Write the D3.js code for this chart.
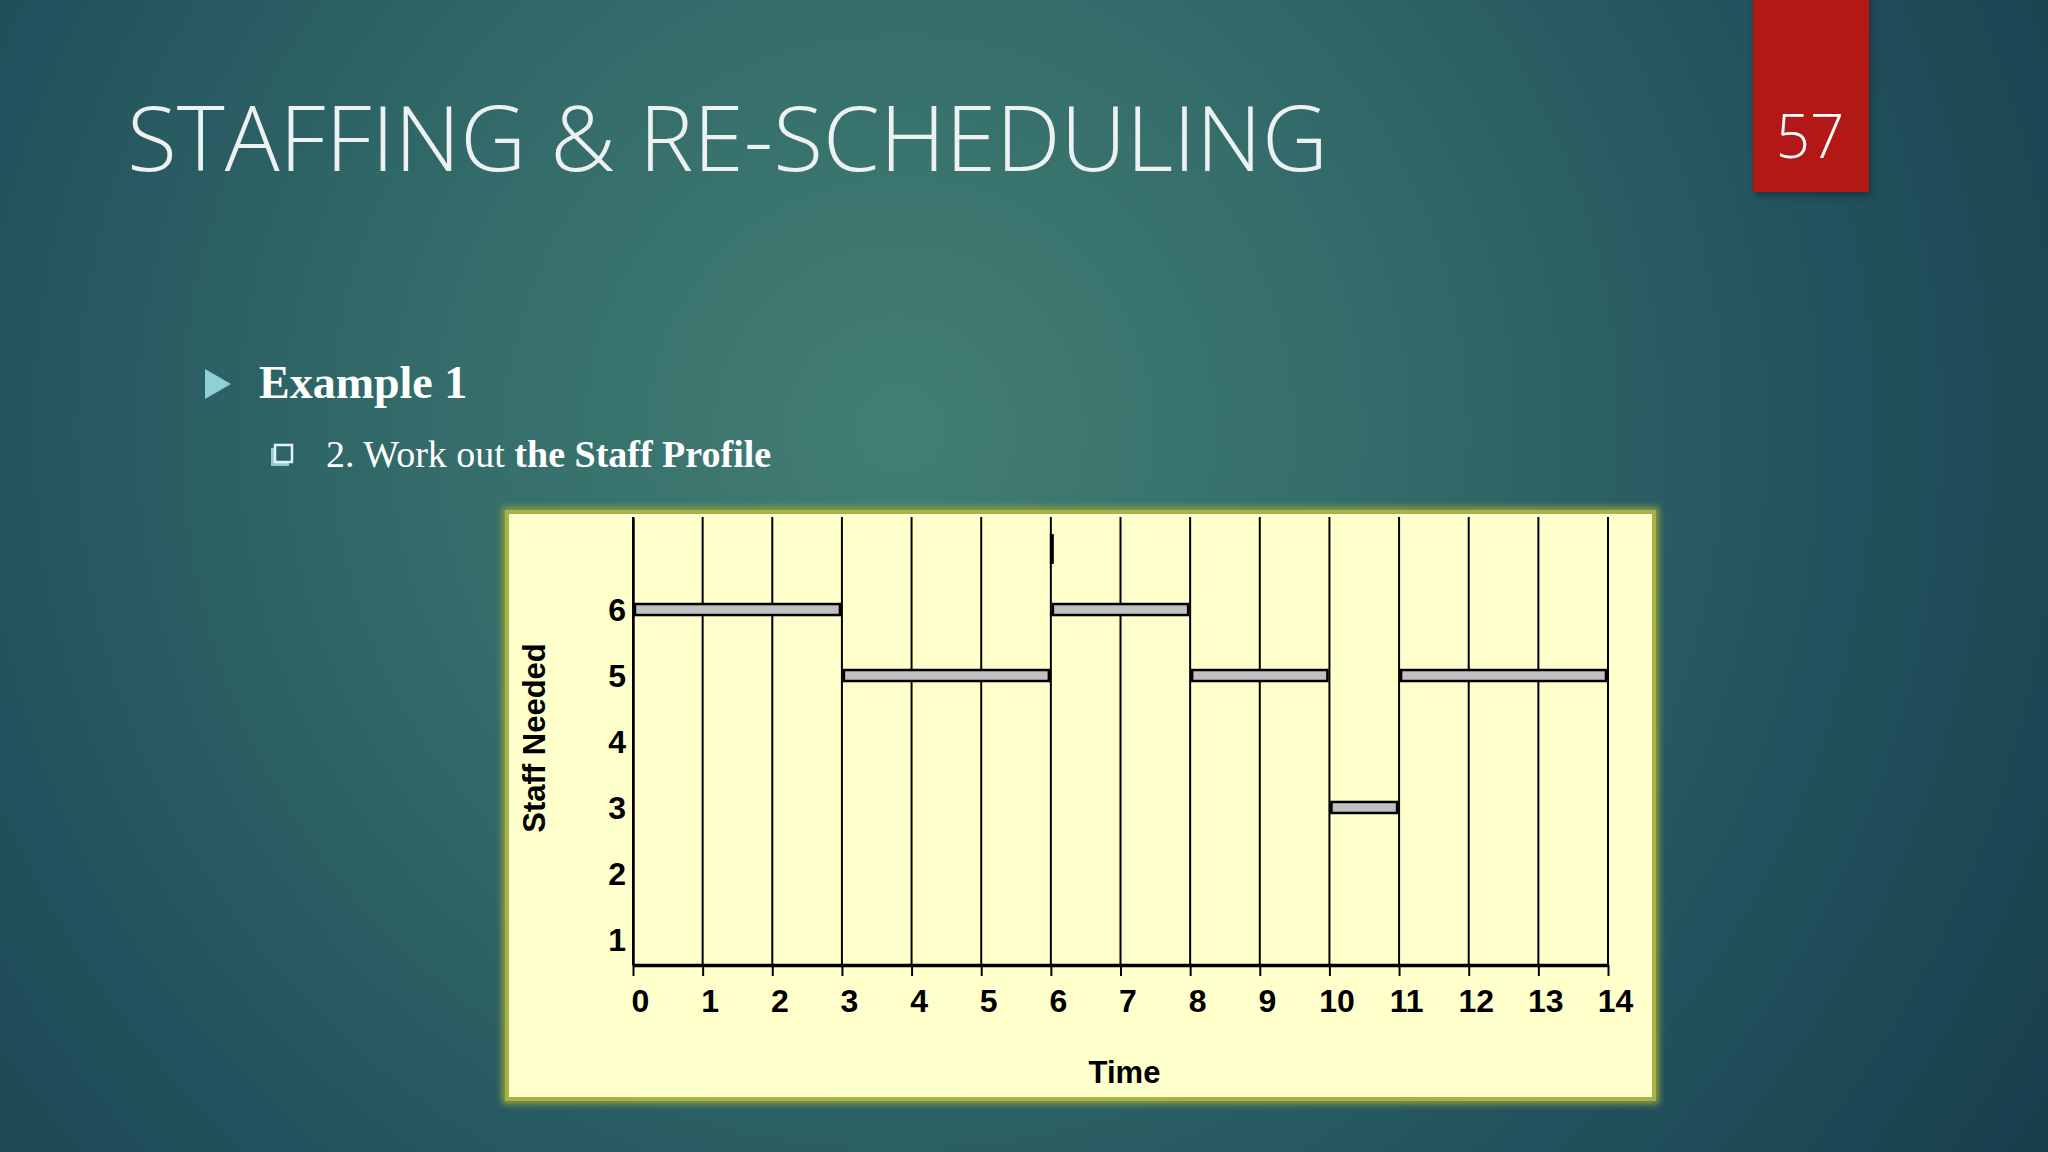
<!DOCTYPE html>
<html>
<head>
<meta charset="utf-8">
<script src="https://cdn.jsdelivr.net/npm/d3@7"></script>
<style>
  html, body { margin: 0; padding: 0; background: #1d4a55; }
  svg { display: block; }
</style>
</head>
<body>
<script>
// ---- data ----
const timeTicks = [0, 1, 2, 3, 4, 5, 6, 7, 8, 9, 10, 11, 12, 13, 14];
const staffTicks = [1, 2, 3, 4, 5, 6];
const segStart = [0, 3, 6, 8, 10, 11];
const segEnd = [3, 6, 8, 10, 11, 14];
const staffNeeded = [6, 5, 6, 5, 3, 5];
const markTime = [6];
const markFrom = [6.7];
const markTo = [7.15];

const titleText = "STAFFING & RE-SCHEDULING";
const slideNumber = "57";
const bullet1 = "Example 1";
const bullet2Regular = "2. Work out ";
const bullet2Bold = "the Staff Profile";
const xTitle = "Time";
const yTitle = "Staff Needed";

const W = 2048, H = 1152;
const svg = d3.select("body").append("svg").attr("width", W).attr("height", H);
const defs = svg.append("defs");

// background
const bg = defs.append("radialGradient").attr("id", "bg")
  .attr("gradientUnits", "userSpaceOnUse")
  .attr("cx", 900).attr("cy", 430).attr("r", 1350);
bg.append("stop").attr("offset", 0).attr("stop-color", "#437e73");
bg.append("stop").attr("offset", 0.35).attr("stop-color", "#336c6a");
bg.append("stop").attr("offset", 0.7).attr("stop-color", "#22525d");
bg.append("stop").attr("offset", 1).attr("stop-color", "#183e4c");
svg.append("rect").attr("width", W).attr("height", H).attr("fill", "url(#bg)");

const blur = defs.append("filter").attr("id", "glow").attr("x", "-5%").attr("y", "-5%").attr("width", "110%").attr("height", "110%");
blur.append("feGaussianBlur").attr("stdDeviation", 3);
const sh = defs.append("filter").attr("id", "shadow").attr("x", "-20%").attr("y", "-20%").attr("width", "140%").attr("height", "140%");
sh.append("feGaussianBlur").attr("stdDeviation", 3);

// slide number box
svg.append("rect").attr("x", 1755).attr("y", -5).attr("width", 116).attr("height", 201)
  .attr("fill", "#0c2a33").attr("opacity", 0.6).attr("filter", "url(#shadow)");
svg.append("rect").attr("x", 1753).attr("y", 0).attr("width", 116).attr("height", 192).attr("fill", "#b21815");
svg.append("text").attr("x", 1810).attr("y", 158).attr("text-anchor", "middle")
  .attr("font-family", "'Open Sans', Lato, sans-serif").attr("font-weight", 300)
  .attr("font-size", 60).attr("fill", "#ffffff").text(slideNumber);

// title
svg.append("text").attr("x", 127).attr("y", 171)
  .attr("font-family", "'Open Sans', Lato, sans-serif").attr("font-weight", 300)
  .attr("font-size", 91).attr("fill", "#eef1f1")
  .attr("textLength", 1201).attr("lengthAdjust", "spacingAndGlyphs")
  .text(titleText);

// bullets
svg.append("path").attr("d", "M205,369 L231,384 L205,399 Z").attr("fill", "#8fd0d6");
svg.append("text").attr("x", 259).attr("y", 398)
  .attr("font-family", "'Liberation Serif', 'Times New Roman', serif").attr("font-weight", "bold")
  .attr("font-size", 46).attr("fill", "#ffffff").text(bullet1);

svg.append("rect").attr("x", 271).attr("y", 448).attr("width", 18).attr("height", 18).attr("fill", "#8fd0d6");
svg.append("rect").attr("x", 275).attr("y", 445).attr("width", 17).attr("height", 17)
  .attr("fill", "#2f6468").attr("stroke", "#e3f3f4").attr("stroke-width", 2.5);
const t2 = svg.append("text").attr("x", 326).attr("y", 467)
  .attr("font-family", "'Liberation Serif', 'Times New Roman', serif")
  .attr("font-size", 38).attr("fill", "#ffffff");
t2.append("tspan").text(bullet2Regular);
t2.append("tspan").attr("font-weight", "bold").text(bullet2Bold);

// chart panel
svg.append("rect").attr("x", 502).attr("y", 507).attr("width", 1157).attr("height", 597)
  .attr("fill", "#8b9c3f").attr("filter", "url(#glow)");
svg.append("rect").attr("x", 505).attr("y", 510).attr("width", 1151).attr("height", 591)
  .attr("fill", "#a7b247");
svg.append("rect").attr("x", 509).attr("y", 514).attr("width", 1143).attr("height", 583)
  .attr("fill", "#ffffcc");

// scales
const yMin = 0.62, yMax = 7.41;
const x = d3.scaleLinear().domain([0, 14]).range([633, 1608]);
const y = d3.scaleLinear().domain([yMin, yMax]).range([965, 517]);

const g = svg.append("g");
const fontAxis = "'Liberation Sans', Arial, sans-serif";

// vertical grid lines
g.append("g").selectAll("line").data(timeTicks).join("line")
  .attr("x1", d => x(d)).attr("x2", d => x(d))
  .attr("y1", y(yMax)).attr("y2", y(yMin))
  .attr("stroke", "#000").attr("stroke-width", 2);

// x axis
const xAxis = g.append("g").attr("transform", `translate(0,${y(yMin)})`)
  .call(d3.axisBottom(x).tickValues(timeTicks).tickSize(11).tickSizeOuter(0).tickPadding(13).tickFormat(d3.format("d")));
xAxis.select(".domain").attr("stroke", "#000").attr("stroke-width", 3.5);
xAxis.selectAll(".tick line").attr("stroke", "#000").attr("stroke-width", 2);
xAxis.selectAll(".tick text").attr("font-family", fontAxis).attr("font-weight", "bold")
  .attr("font-size", 32).attr("fill", "#000").attr("dx", 7);

// y axis (labels only)
const yAxis = g.append("g").attr("transform", `translate(${x(0)},0)`)
  .call(d3.axisLeft(y).tickValues(staffTicks).tickSize(0).tickPadding(7).tickFormat(d3.format("d")));
yAxis.select(".domain").attr("stroke", "#000").attr("stroke-width", 2.5);
yAxis.selectAll(".tick text").attr("font-family", fontAxis).attr("font-weight", "bold")
  .attr("font-size", 32).attr("fill", "#000");

// bars (staff profile)
const segs = segStart.map((s, i) => ({ s, e: segEnd[i], v: staffNeeded[i] }));
g.append("g").selectAll("rect").data(segs).join("rect")
  .attr("x", d => x(d.s) + 2)
  .attr("width", d => x(d.e) - x(d.s) - 4)
  .attr("y", d => y(d.v) - 6)
  .attr("height", 11)
  .attr("fill", "#c0c0c0").attr("stroke", "#000").attr("stroke-width", 2.5);

// small marker stroke
g.append("g").selectAll("line").data(markTime).join("line")
  .attr("x1", d => x(d) + 1).attr("x2", d => x(d) + 1)
  .attr("y1", (d, i) => y(markTo[i])).attr("y2", (d, i) => y(markFrom[i]))
  .attr("stroke", "#000").attr("stroke-width", 4);

// axis titles
g.append("text").attr("x", (x(0) + x(14)) / 2 + 4).attr("y", 1083).attr("text-anchor", "middle")
  .attr("font-family", fontAxis).attr("font-weight", "bold").attr("font-size", 31).attr("fill", "#000")
  .text(xTitle);
g.append("text").attr("transform", "translate(545,738) rotate(-90)").attr("text-anchor", "middle")
  .attr("font-family", fontAxis).attr("font-weight", "bold").attr("font-size", 31).attr("fill", "#000")
  .text(yTitle);
</script>
</body>
</html>
